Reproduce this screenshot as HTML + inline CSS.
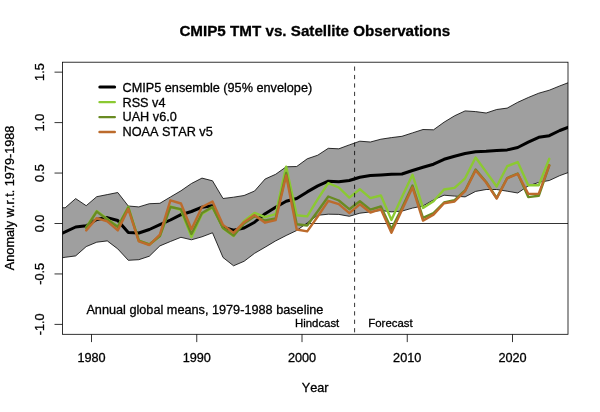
<!DOCTYPE html>
<html><head><meta charset="utf-8"><style>
html,body{margin:0;padding:0;background:#fff;}
body{width:600px;height:412px;overflow:hidden;}
svg{display:block;will-change:transform;}
</style></head><body>
<svg width="600" height="412" viewBox="0 0 600 412" font-family="Liberation Sans, sans-serif" font-size="12.7" style="font-kerning:none">
<style>text{stroke:#000;stroke-width:0.3px;}</style>
<defs><clipPath id="pc"><rect x="62.48" y="62.2" width="505.52" height="272.1"/></clipPath></defs>
<rect width="600" height="412" fill="#fff"/>
<text x="179.4" y="36.2" font-weight="bold" font-size="15.2">CMIP5 TMT vs. Satellite Observations</text>
<g clip-path="url(#pc)">
<line x1="62.48" y1="223.5" x2="568.0" y2="223.5" stroke="#000" stroke-width="0.8"/>
<polygon points="54.62,207.50 65.15,207.80 75.67,198.60 86.20,205.70 96.73,196.70 107.25,194.60 117.78,192.50 128.30,206.00 138.82,206.90 149.35,203.70 159.88,203.30 170.40,197.00 180.93,190.80 191.45,183.50 201.98,178.10 212.50,180.80 223.03,198.50 233.55,197.20 244.07,195.50 254.60,191.00 265.12,179.00 275.65,174.30 286.18,166.80 296.70,166.50 307.23,158.80 317.75,155.20 328.28,148.30 338.80,148.80 349.32,144.90 359.85,141.20 370.38,142.00 380.90,139.20 391.43,137.60 401.95,136.30 412.48,132.90 423.00,129.50 433.52,129.80 444.05,122.20 454.57,115.80 465.10,110.90 475.62,111.60 486.15,113.00 496.68,109.50 507.20,108.10 517.73,102.30 528.25,97.50 538.77,93.20 549.30,90.20 559.83,85.90 570.35,81.90 570.35,171.80 559.83,175.60 549.30,180.50 538.77,182.40 528.25,185.90 517.73,193.00 507.20,191.20 496.68,189.50 486.15,189.50 475.62,191.40 465.10,196.90 454.57,196.10 444.05,195.20 433.52,199.90 423.00,205.90 412.48,208.10 401.95,211.10 391.43,211.90 380.90,210.50 370.38,211.90 359.85,213.20 349.32,216.30 338.80,214.40 328.28,214.20 317.75,215.30 307.23,222.90 296.70,230.50 286.18,235.50 275.65,240.90 265.12,247.20 254.60,253.30 244.07,261.30 233.55,265.80 223.03,257.50 212.50,232.80 201.98,236.80 191.45,239.80 180.93,237.30 170.40,241.50 159.88,245.90 149.35,256.20 138.82,259.70 128.30,260.30 117.78,248.90 107.25,240.90 96.73,242.20 86.20,246.60 75.67,255.90 65.15,257.30 54.62,259.00" fill="#9f9f9f" stroke="#000" stroke-width="0.8" stroke-linejoin="round"/>
<polyline points="54.62,236.50 65.15,231.90 75.67,227.00 86.20,225.80 96.73,219.50 107.25,217.60 117.78,220.50 128.30,232.50 138.82,233.00 149.35,229.50 159.88,224.60 170.40,220.00 180.93,214.70 191.45,211.50 201.98,207.20 212.50,205.70 223.03,227.10 233.55,230.30 244.07,228.00 254.60,222.20 265.12,213.70 275.65,207.20 286.18,201.20 296.70,198.50 307.23,191.90 317.75,185.90 328.28,181.20 338.80,181.70 349.32,180.50 359.85,177.20 370.38,175.50 380.90,174.90 391.43,174.30 401.95,174.00 412.48,170.50 423.00,167.30 433.52,164.20 444.05,159.30 454.57,156.20 465.10,153.50 475.62,151.80 486.15,151.30 496.68,150.50 507.20,149.90 517.73,147.50 528.25,142.10 538.77,137.30 549.30,135.70 559.83,130.50 570.35,126.50" fill="none" stroke="#000" stroke-width="3" stroke-linejoin="round" stroke-linecap="round"/>
<polyline points="86.20,227.50 96.73,211.00 107.25,219.00 117.78,226.50 128.30,206.80 138.82,240.90 149.35,244.50 159.88,236.00 170.40,206.50 180.93,210.00 191.45,237.00 201.98,214.00 212.50,207.50 223.03,228.30 233.55,236.00 244.07,220.90 254.60,212.90 265.12,217.20 275.65,214.20 286.18,166.60 296.70,215.30 307.23,216.40 317.75,199.20 328.28,183.20 338.80,187.50 349.32,197.60 359.85,189.20 370.38,198.10 380.90,195.50 391.43,219.90 401.95,197.00 412.48,174.70 423.00,207.90 433.52,201.20 444.05,189.50 454.57,187.90 465.10,178.30 475.62,157.50 486.15,171.90 496.68,186.50 507.20,166.20 517.73,162.10 528.25,185.20 538.77,185.20 549.30,158.80" fill="none" stroke="#8bc932" stroke-width="2.4" stroke-linejoin="round" stroke-linecap="round"/>
<polyline points="86.20,227.80 96.73,211.60 107.25,219.50 117.78,226.90 128.30,207.50 138.82,240.70 149.35,244.50 159.88,236.00 170.40,207.00 180.93,209.20 191.45,234.00 201.98,213.00 212.50,206.90 223.03,228.00 233.55,235.60 244.07,223.50 254.60,216.20 265.12,220.50 275.65,218.50 286.18,173.00 296.70,224.20 307.23,225.50 317.75,211.20 328.28,196.50 338.80,200.50 349.32,209.20 359.85,201.20 370.38,209.60 380.90,206.50 391.43,229.00 401.95,208.00 412.48,185.50 423.00,217.90 433.52,213.20 444.05,202.50 454.57,200.10 465.10,190.50 475.62,169.50 486.15,182.00 496.68,198.00 507.20,178.00 517.73,173.50 528.25,197.10 538.77,195.80 549.30,165.30" fill="none" stroke="#698b22" stroke-width="2.4" stroke-linejoin="round" stroke-linecap="round"/>
<polyline points="86.20,230.40 96.73,218.10 107.25,221.40 117.78,230.40 128.30,209.00 138.82,241.40 149.35,245.00 159.88,234.70 170.40,200.30 180.93,203.50 191.45,229.30 201.98,207.00 212.50,201.50 223.03,224.90 233.55,232.90 244.07,222.20 254.60,215.10 265.12,222.70 275.65,220.20 286.18,175.50 296.70,229.50 307.23,231.40 317.75,216.50 328.28,200.80 338.80,204.20 349.32,213.20 359.85,204.30 370.38,212.50 380.90,209.20 391.43,232.80 401.95,210.00 412.48,187.40 423.00,220.60 433.52,214.60 444.05,203.20 454.57,201.50 465.10,191.20 475.62,170.50 486.15,182.50 496.68,198.60 507.20,178.30 517.73,173.90 528.25,193.90 538.77,193.70 549.30,165.30" fill="none" stroke="#bc6b2c" stroke-width="2.4" stroke-linejoin="round" stroke-linecap="round"/>
<line x1="354.6" y1="334.3" x2="354.6" y2="62.2" stroke="#000" stroke-width="0.8" stroke-dasharray="4.22 4.22" stroke-dashoffset="6.50"/>
</g>
<rect x="62.48" y="62.2" width="505.52" height="272.10" fill="none" stroke="#000" stroke-width="0.8"/>
<g stroke="#000" stroke-width="0.8"><line x1="91.50" y1="334.3" x2="91.50" y2="342.1" /><line x1="196.75" y1="334.3" x2="196.75" y2="342.1" /><line x1="302.00" y1="334.3" x2="302.00" y2="342.1" /><line x1="407.25" y1="334.3" x2="407.25" y2="342.1" /><line x1="512.50" y1="334.3" x2="512.50" y2="342.1" /><line x1="54.5" y1="72.15" x2="62.48" y2="72.15" /><line x1="54.5" y1="122.60" x2="62.48" y2="122.60" /><line x1="54.5" y1="173.05" x2="62.48" y2="173.05" /><line x1="54.5" y1="223.50" x2="62.48" y2="223.50" /><line x1="54.5" y1="273.95" x2="62.48" y2="273.95" /><line x1="54.5" y1="324.40" x2="62.48" y2="324.40" /></g>
<text x="91.5" y="362" text-anchor="middle">1980</text><text x="196.8" y="362" text-anchor="middle">1990</text><text x="302.0" y="362" text-anchor="middle">2000</text><text x="407.2" y="362" text-anchor="middle">2010</text><text x="512.5" y="362" text-anchor="middle">2020</text>
<text transform="translate(44.4,72.1) rotate(-90)" text-anchor="middle">1.5</text><text transform="translate(44.4,122.6) rotate(-90)" text-anchor="middle">1.0</text><text transform="translate(44.4,173.1) rotate(-90)" text-anchor="middle">0.5</text><text transform="translate(44.4,223.5) rotate(-90)" text-anchor="middle">0.0</text><text transform="translate(44.4,273.9) rotate(-90)" text-anchor="middle">-0.5</text><text transform="translate(44.4,324.4) rotate(-90)" text-anchor="middle">-1.0</text>
<text x="315.2" y="391.7" text-anchor="middle">Year</text>
<text transform="translate(14.1,197.9) rotate(-90)" text-anchor="middle">Anomaly w.r.t. 1979-1988</text>
<g stroke-width="2.4" stroke-linecap="round">
<line x1="99.8" y1="86.9" x2="114.6" y2="86.9" stroke="#000" stroke-width="3"/>
<line x1="99.5" y1="102.1" x2="114.8" y2="102.1" stroke="#8bc932"/>
<line x1="99.5" y1="117.1" x2="114.8" y2="117.1" stroke="#698b22"/>
<line x1="99.5" y1="132.0" x2="114.8" y2="132.0" stroke="#bc6b2c"/>
</g>
<text x="122.5" y="91.6">CMIP5 ensemble (95% envelope)</text>
<text x="122.5" y="106.5">RSS v4</text>
<text x="122.5" y="121.4">UAH v6.0</text>
<text x="122.5" y="136.3">NOAA STAR v5</text>
<text x="86.4" y="314.0">Annual global means, 1979-1988 baseline</text>
<text x="339.3" y="326.5" text-anchor="end" font-size="11.4">Hindcast</text>
<text x="368.3" y="326.5" font-size="11.4">Forecast</text>
</svg>
</body></html>
